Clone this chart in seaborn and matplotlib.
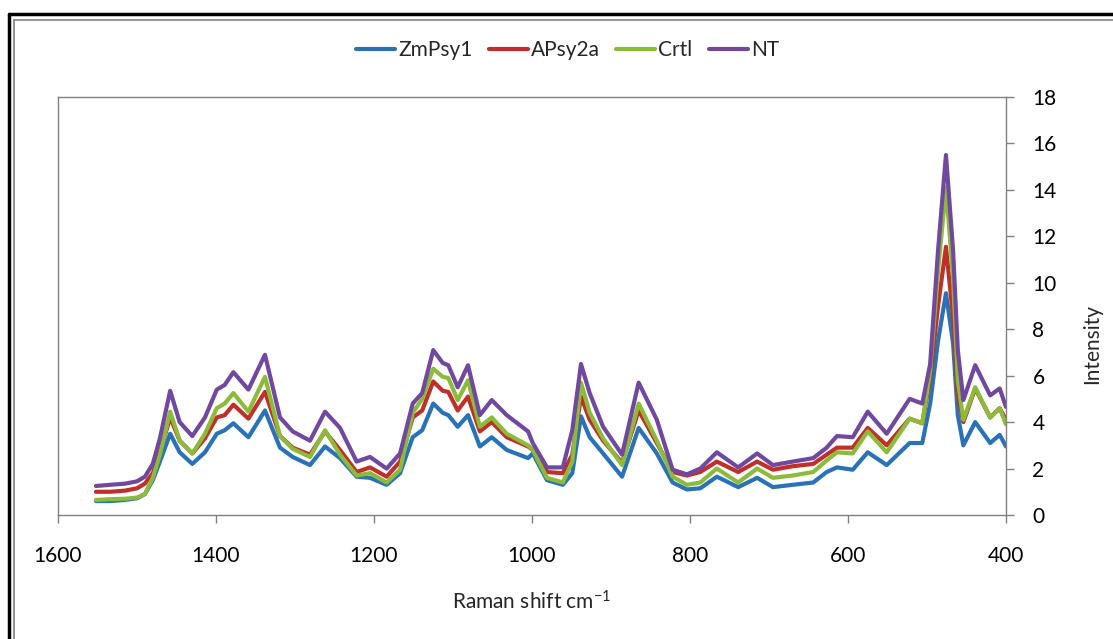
import numpy as np
import pandas as pd
import matplotlib
matplotlib.use("Agg")
import matplotlib.pyplot as plt
from matplotlib.lines import Line2D
import seaborn as sns

# Raman shift positions (cm-1)
shift = [1552, 1534, 1515, 1500, 1490, 1480, 1471, 1458, 1446, 1430,
         1414, 1399, 1389, 1378, 1359, 1338, 1319, 1303, 1281, 1262,
         1243, 1222, 1205, 1184, 1167, 1151, 1139, 1125, 1113, 1106,
         1094, 1081, 1066, 1051, 1032, 1005, 999, 981, 961, 949,
         938, 927, 910, 886, 865, 842, 822, 804, 787, 766,
         739, 715, 695, 670, 644, 627, 614, 594, 575, 551,
         522, 506, 496, 486, 476, 467, 461, 454, 439, 420,
         408, 400]

zmpsy1 = [0.6, 0.6, 0.65, 0.72, 0.9, 1.5, 2.3, 3.5, 2.7, 2.2,
          2.7, 3.5, 3.65, 3.95, 3.35, 4.5, 2.9, 2.5, 2.15, 2.95,
          2.45, 1.65, 1.6, 1.3, 1.8, 3.35, 3.65, 4.8, 4.4, 4.3,
          3.8, 4.3, 2.95, 3.35, 2.8, 2.45, 2.65, 1.5, 1.3, 1.8,
          4.25, 3.35, 2.65, 1.65, 3.75, 2.65, 1.4, 1.1, 1.15, 1.65,
          1.2, 1.6, 1.2, 1.3, 1.4, 1.85, 2.05, 1.95, 2.7, 2.15,
          3.1, 3.1, 4.8, 7.5, 9.55, 7.4, 4.3, 3.0, 4.0, 3.1,
          3.45, 2.95]

apsy2a = [1.0, 1.0, 1.05, 1.15, 1.35, 1.8, 2.7, 4.2, 3.2, 2.65,
          3.3, 4.2, 4.3, 4.75, 4.15, 5.3, 3.4, 2.9, 2.6, 3.6,
          2.8, 1.85, 2.05, 1.65, 2.3, 4.2, 4.5, 5.75, 5.35, 5.3,
          4.5, 5.1, 3.6, 4.0, 3.35, 2.95, 2.8, 1.85, 1.8, 2.6,
          5.1, 4.1, 3.2, 2.25, 4.5, 3.1, 1.85, 1.7, 1.85, 2.3,
          1.85, 2.3, 1.95, 2.1, 2.2, 2.6, 2.9, 2.9, 3.75, 3.0,
          4.15, 3.95, 5.9, 9.0, 11.55, 8.5, 5.2, 4.0, 5.45, 4.2,
          4.6, 4.1]

crtl = [0.65, 0.68, 0.7, 0.75, 0.9, 1.6, 2.6, 4.45, 3.2, 2.65,
        3.5, 4.6, 4.8, 5.25, 4.45, 5.95, 3.4, 2.85, 2.5, 3.65,
        2.6, 1.7, 1.8, 1.4, 1.95, 4.4, 5.0, 6.3, 5.95, 5.9,
        4.95, 5.8, 3.8, 4.2, 3.5, 3.0, 2.8, 1.6, 1.4, 2.3,
        5.7, 4.4, 3.3, 2.15, 4.8, 3.2, 1.65, 1.3, 1.4, 2.0,
        1.4, 2.0, 1.6, 1.7, 1.85, 2.35, 2.7, 2.65, 3.6, 2.7,
        4.15, 3.95, 6.2, 10.5, 14.1, 10.2, 5.8, 4.1, 5.5, 4.2,
        4.6, 3.9]

nt = [1.25, 1.3, 1.35, 1.45, 1.65, 2.2, 3.3, 5.35, 4.0, 3.4,
      4.2, 5.4, 5.6, 6.15, 5.4, 6.9, 4.2, 3.6, 3.2, 4.45,
      3.75, 2.3, 2.5, 2.0, 2.65, 4.8, 5.25, 7.1, 6.55, 6.45,
      5.5, 6.45, 4.3, 4.95, 4.3, 3.6, 3.1, 2.05, 2.05, 3.65,
      6.5, 5.25, 3.8, 2.6, 5.7, 4.1, 1.95, 1.75, 2.0, 2.7,
      2.05, 2.65, 2.15, 2.3, 2.45, 2.9, 3.4, 3.35, 4.45, 3.5,
      5.0, 4.8, 6.5, 11.4, 15.5, 11.4, 7.1, 4.95, 6.45, 5.15,
      5.45, 4.65]

samples = ["ZmPsy1", "APsy2a", "Crtl", "NT"]
colors = ["#2a72b8", "#c0302b", "#8cbb3a", "#7048a0"]

df = pd.concat([
    pd.DataFrame({"shift": shift, "intensity": vals, "sample": name})
    for name, vals in zip(samples, [zmpsy1, apsy2a, crtl, nt])
])

sns.set_style("white")
plt.rcParams['font.family'] = ['Lato', 'DejaVu Sans']
plt.rcParams['mathtext.default'] = 'regular'

fig = plt.figure(figsize=(11.13, 6.39), dpi=100)
ax = fig.add_axes([58 / 1113, 124 / 639, 948 / 1113, 418 / 639])

sns.lineplot(data=df, x="shift", y="intensity", hue="sample",
             palette=dict(zip(samples, colors)), hue_order=samples,
             sort=False, estimator=None, linewidth=3, ax=ax, legend=False)
for ln in ax.lines:
    ln.set_solid_joinstyle('round')
    ln.set_solid_capstyle('round')

ax.set_xlim(1600, 400)
ax.set_ylim(0, 18)
ax.set_xticks(np.arange(400, 1601, 200))
ax.set_yticks(np.arange(0, 19, 2))
ax.yaxis.tick_right()
ax.yaxis.set_label_position("right")
ax.tick_params(axis='both', direction='out', length=5.5, width=1,
               color='#808080', labelsize=15, labelcolor='black')
ax.tick_params(axis='x', bottom=True, pad=17)
ax.tick_params(axis='y', right=True, left=False, pad=13.5)
for side in ax.spines.values():
    side.set_color('#808080')
    side.set_linewidth(1)

ax.set_xlabel("Raman shift cm$^{-1}$", fontsize=15, labelpad=17)
ax.set_ylabel("Intensity", fontsize=15)
ax.yaxis.set_label_coords(1.08, 0.41)

handles = [Line2D([0], [0], color=c, lw=3) for c in colors]
fig.legend(handles, samples, loc='center', bbox_to_anchor=(0.51, 0.922),
           ncol=4, frameon=False, fontsize=15, handlelength=1.85,
           handletextpad=0.15, columnspacing=0.8)

# outer chart frame (black + grey double line, running off right/bottom)
fig.add_artist(Line2D([8.5 / 1113, 8.5 / 1113], [-0.1, 1 - 14 / 639],
                      color='black', lw=2.5, transform=fig.transFigure))
fig.add_artist(Line2D([8.5 / 1113, 1.1], [1 - 14 / 639, 1 - 14 / 639],
                      color='black', lw=2.5, transform=fig.transFigure))
fig.add_artist(Line2D([14 / 1113, 14 / 1113], [-0.1, 1 - 20 / 639],
                      color='#808080', lw=1.2, transform=fig.transFigure))
fig.add_artist(Line2D([14 / 1113, 1.1], [1 - 20 / 639, 1 - 20 / 639],
                      color='#808080', lw=1.2, transform=fig.transFigure))

fig.savefig("out.png", dpi=100)
